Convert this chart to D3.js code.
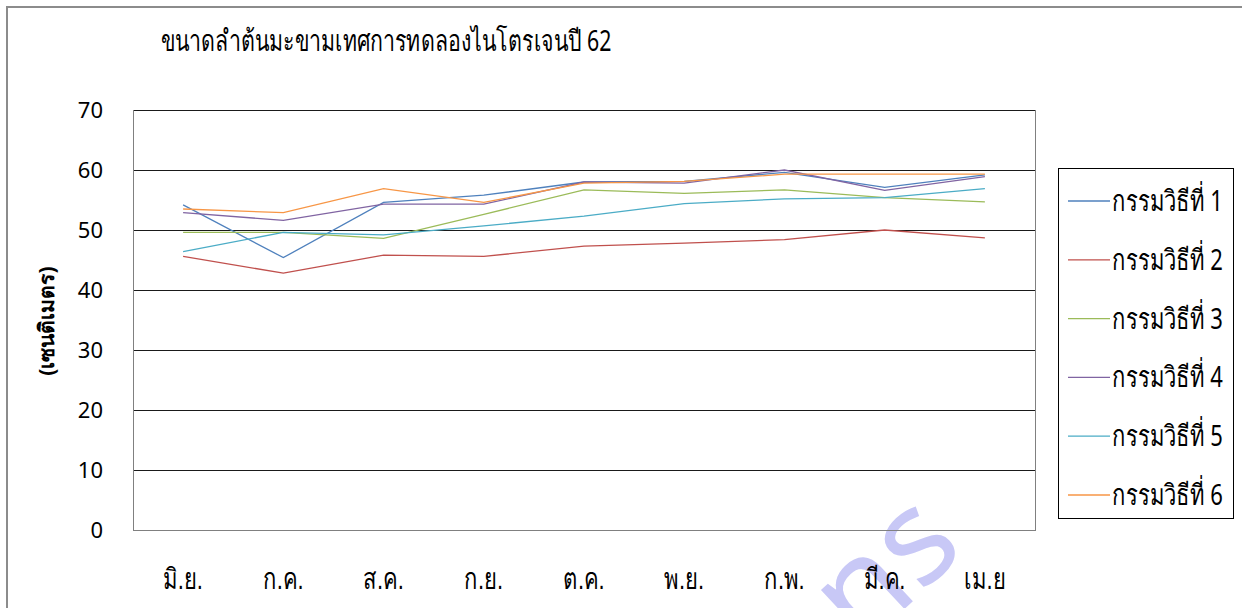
<!DOCTYPE html>
<html>
<head>
<meta charset="utf-8">
<script src="https://cdn.jsdelivr.net/npm/d3@7"></script>
<style>
  html, body { margin: 0; padding: 0; background: #fff; }
  svg { display: block; font-family: "Noto Sans", "DejaVu Sans", sans-serif; }
</style>
</head>
<body>
<svg id="chart" width="1242" height="608"></svg>
<script>
const months = ["มิ.ย.", "ก.ค.", "ส.ค.", "ก.ย.", "ต.ค.", "พ.ย.", "ก.พ.", "มี.ค.", "เม.ย"];
const seriesNames = ["กรรมวิธีที่ 1", "กรรมวิธีที่ 2", "กรรมวิธีที่ 3", "กรรมวิธีที่ 4", "กรรมวิธีที่ 5", "กรรมวิธีที่ 6"];
const t1 = [54.2, 45.4, 54.6, 55.8, 58.0, 58.1, 59.6, 57.1, 59.2];
const t2 = [45.6, 42.8, 45.8, 45.6, 47.3, 47.8, 48.4, 50.0, 48.7];
const t3 = [49.6, 49.6, 48.6, 52.6, 56.7, 56.1, 56.7, 55.4, 54.7];
const t4 = [52.9, 51.6, 54.3, 54.3, 58.0, 57.8, 60.0, 56.6, 58.9];
const t5 = [46.4, 49.6, 49.2, 50.7, 52.3, 54.4, 55.2, 55.4, 56.9];
const t6 = [53.5, 52.9, 56.9, 54.6, 57.8, 58.1, 59.3, 59.3, 59.3];
const yTicks = [0, 10, 20, 30, 40, 50, 60, 70];
const colors = ["#4F81BD", "#C0504D", "#9BBB59", "#8064A2", "#4BACC6", "#F79646"];
const titleText = "ขนาดลำต้นมะขามเทศการทดลองไนโตรเจนปี 62";
const yTitle = "(เซนติเมตร)";
const watermark = "ns";

const allSeries = [t1, t2, t3, t4, t5, t6];
const svg = d3.select("#chart");
const narrow = "scale(0.76,1)";

// outer chart border
svg.append("rect").attr("x", 7).attr("y", 7).attr("width", 1250).attr("height", 620)
  .attr("fill", "none").attr("stroke", "#8c8c8c").attr("stroke-width", 2);

const plot = { left: 133, right: 1035, top: 110, bottom: 530 };
const x = d3.scaleBand().domain(months).range([plot.left, plot.right]);
const y = d3.scaleLinear().domain([0, 70]).range([plot.bottom, plot.top]);

// watermark (behind labels)
svg.append("text").attr("transform", "translate(914,600) rotate(-43)")
  .attr("text-anchor", "middle").attr("font-size", 132)
  .attr("fill", "#c8c8f6").text(watermark);

// gridlines
svg.append("g").selectAll("line").data(yTicks.filter(d => d > 0)).join("line")
  .attr("x1", plot.left).attr("x2", plot.right)
  .attr("y1", d => Math.round(y(d)) + 0.5).attr("y2", d => Math.round(y(d)) + 0.5)
  .attr("stroke", "#1a1a1a").attr("stroke-width", 1);

// plot border sides
svg.append("line").attr("x1", plot.left + 0.5).attr("x2", plot.left + 0.5)
  .attr("y1", plot.top).attr("y2", plot.bottom).attr("stroke", "#808080");
svg.append("line").attr("x1", plot.right + 0.5).attr("x2", plot.right + 0.5)
  .attr("y1", plot.top).attr("y2", plot.bottom + 1).attr("stroke", "#808080");
svg.append("line").attr("x1", plot.left).attr("x2", plot.right)
  .attr("y1", plot.bottom + 0.5).attr("y2", plot.bottom + 0.5).attr("stroke", "#808080");

// y axis labels
const yAxis = d3.axisLeft(y).tickValues(yTicks).tickSize(0).tickPadding(30);
const yg = svg.append("g").attr("transform", `translate(${plot.left},0)`).call(yAxis);
yg.select(".domain").remove();
yg.selectAll("text").attr("font-size", 22).attr("fill", "#000")
  .attr("font-family", "'Noto Sans', 'DejaVu Sans', sans-serif");

// x axis labels
const xAxis = d3.axisBottom(x).tickSize(0).tickPadding(38);
const xg = svg.append("g").attr("transform", `translate(0,${plot.bottom})`).call(xAxis);
xg.select(".domain").remove();
xg.selectAll("text").attr("font-size", 29).attr("fill", "#000").attr("transform", narrow);

// lines
const line = d3.line().x((d, i) => x(months[i]) + x.bandwidth() / 2).y(d => y(d));
svg.append("g").selectAll("path").data(allSeries).join("path")
  .attr("d", d => line(d)).attr("fill", "none")
  .attr("stroke", (d, i) => colors[i]).attr("stroke-width", 1.3);

// title
svg.append("g").attr("transform", "translate(161,51)")
  .append("text").attr("font-size", 29).attr("fill", "#000").attr("transform", "scale(0.735,1)")
  .text(titleText);

// y title
svg.append("text").attr("transform", "translate(54,321) rotate(-90)")
  .attr("text-anchor", "middle").attr("font-size", 21).attr("font-weight", "bold")
  .attr("fill", "#000").text(yTitle);

// legend
const lg = svg.append("g");
lg.append("rect").attr("x", 1058.5).attr("y", 168.5).attr("width", 175).attr("height", 350)
  .attr("fill", "#fff").attr("stroke", "#000");
const items = lg.selectAll("g.item").data(seriesNames).join("g").attr("class", "item")
  .attr("transform", (d, i) => `translate(0,${201 + i * 58.8})`);
items.append("line").attr("x1", 1068).attr("x2", 1110).attr("y1", 0).attr("y2", 0)
  .attr("stroke", (d, i) => colors[i]).attr("stroke-width", 1.3);
items.append("g").attr("transform", "translate(1112,10)")
  .append("text").attr("font-size", 29).attr("fill", "#000").attr("transform", narrow)
  .text(d => d);
</script>
</body>
</html>
